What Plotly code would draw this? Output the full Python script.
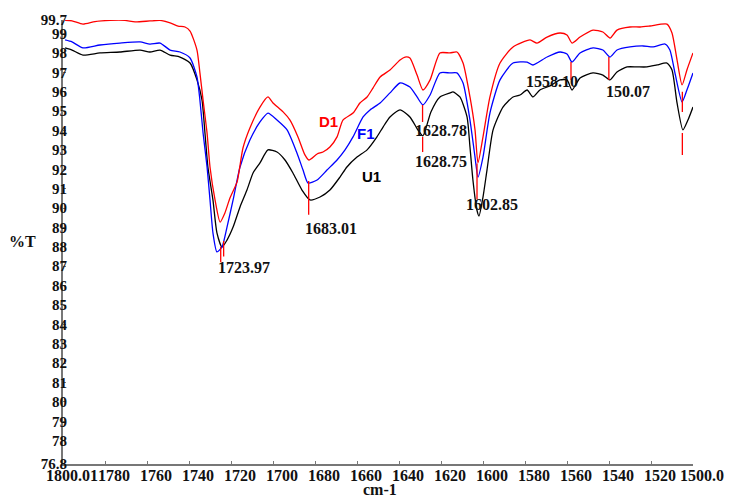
import plotly.graph_objects as go

# Wavenumber (cm-1) and transmittance (%T) for the three spectra
wn_d1 = [1799.0, 1795.7, 1790.5, 1784.8, 1777.6, 1770.5, 1765.7, 1758.6, 1753.8, 1749.0,
         1745.2, 1741.9, 1739.5, 1736.2, 1734.8, 1733.3, 1731.4, 1730.0, 1727.6, 1725.2,
         1722.9, 1720.5, 1717.1, 1714.3, 1711.0, 1706.2, 1702.4, 1700.0, 1695.2, 1691.9,
         1688.1, 1684.8, 1682.9, 1679.0, 1676.2, 1672.9, 1669.5, 1666.7, 1661.9, 1658.6,
         1655.2, 1652.4, 1649.0, 1644.3, 1639.5, 1637.1, 1634.8, 1631.4, 1628.6, 1625.2,
         1620.5, 1615.7, 1612.4, 1609.5, 1606.2, 1603.8, 1602.4, 1600.0, 1596.7, 1591.9,
         1585.7, 1577.6, 1574.3, 1569.5, 1563.3, 1560.0, 1557.6, 1553.8, 1547.6, 1542.9,
         1539.5, 1536.2, 1530.0, 1525.2, 1520.5, 1512.4, 1510.0, 1507.6, 1505.2, 1502.9,
         1500.0]
t_d1 = [99.68, 99.66, 99.49, 99.62, 99.68, 99.68, 99.60, 99.65, 99.68, 99.55,
        99.39, 99.34, 99.13, 98.15, 96.97, 95.57, 93.87, 92.12, 90.42, 89.28,
        89.75, 90.52, 91.35, 93.10, 94.13, 95.21, 95.73, 95.42, 94.96, 94.54,
        93.67, 92.74, 92.48, 92.79, 92.89, 93.15, 93.67, 94.54, 94.90, 95.42,
        95.73, 96.19, 96.76, 97.12, 97.64, 97.79, 97.74, 96.86, 96.09, 96.61,
        98.00, 98.00, 98.05, 97.48, 95.73, 94.03, 92.33, 93.67, 95.73, 97.48,
        98.31, 98.67, 98.51, 98.82, 99.03, 98.93, 98.51, 98.82, 99.18, 99.08,
        98.77, 99.18, 99.34, 99.34, 99.39, 99.49, 99.03, 97.64, 96.35, 97.12,
        98.00]

wn_f1 = [1799.0, 1795.7, 1790.5, 1782.4, 1772.9, 1763.3, 1758.6, 1753.8, 1749.0, 1744.3,
         1739.5, 1736.2, 1734.8, 1733.3, 1731.4, 1730.0, 1728.6, 1726.7, 1724.3, 1721.9,
         1719.0, 1715.7, 1711.0, 1706.2, 1702.4, 1698.1, 1693.3, 1688.6, 1685.7, 1683.3,
         1679.0, 1674.3, 1669.5, 1665.7, 1661.9, 1657.1, 1653.8, 1649.0, 1644.3, 1639.5,
         1634.8, 1631.4, 1628.6, 1625.2, 1620.5, 1615.7, 1612.4, 1609.5, 1606.2, 1603.8,
         1602.4, 1600.0, 1596.7, 1591.9, 1585.7, 1579.0, 1576.2, 1569.5, 1563.3, 1560.0,
         1557.6, 1553.8, 1547.6, 1542.9, 1539.5, 1536.2, 1530.0, 1523.8, 1519.0, 1513.3,
         1511.0, 1508.6, 1505.2, 1502.9, 1500.0]
t_f1 = [98.67, 98.57, 98.26, 98.41, 98.51, 98.57, 98.46, 98.51, 98.15, 98.05,
        97.74, 96.76, 95.57, 93.87, 92.12, 90.42, 88.72, 87.74, 87.99, 89.02,
        90.42, 92.12, 93.51, 94.44, 94.90, 94.54, 94.03, 92.84, 91.96, 91.29,
        91.45, 91.96, 92.48, 93.00, 93.67, 94.70, 95.06, 95.42, 95.94, 96.45,
        96.24, 95.73, 95.32, 95.83, 96.97, 96.97, 96.97, 96.45, 94.54, 92.63,
        91.60, 92.63, 94.90, 96.61, 97.48, 97.53, 97.38, 97.79, 98.05, 97.95,
        97.53, 98.00, 98.26, 98.15, 97.79, 98.15, 98.31, 98.36, 98.31, 98.46,
        98.15, 96.97, 95.47, 96.09, 96.97]

wn_u1 = [1799.0, 1795.7, 1790.5, 1782.4, 1772.9, 1763.3, 1758.6, 1753.8, 1749.0, 1744.3,
         1739.5, 1736.2, 1733.8, 1732.4, 1731.0, 1728.6, 1726.7, 1724.3, 1721.9, 1719.0,
         1715.7, 1712.4, 1709.5, 1706.2, 1702.4, 1698.1, 1694.3, 1690.5, 1686.2, 1682.4,
         1677.6, 1672.9, 1668.1, 1664.8, 1660.0, 1655.2, 1650.5, 1647.6, 1644.3, 1639.5,
         1634.8, 1631.0, 1628.6, 1624.8, 1620.5, 1615.7, 1614.3, 1611.0, 1607.6, 1606.2,
         1604.8, 1602.9, 1601.9, 1600.0, 1598.1, 1595.2, 1590.5, 1585.7, 1582.4, 1579.0,
         1576.2, 1572.9, 1568.1, 1563.3, 1560.0, 1557.6, 1553.8, 1547.6, 1542.9, 1539.5,
         1536.2, 1531.4, 1526.7, 1521.9, 1517.1, 1512.4, 1510.0, 1507.6, 1504.8, 1502.4,
         1500.0]
t_u1 = [98.26, 98.15, 97.89, 98.00, 98.05, 98.15, 98.05, 98.15, 97.89, 97.79,
        97.48, 96.61, 95.57, 93.87, 92.12, 90.42, 88.72, 87.99, 88.35, 89.02,
        90.06, 90.93, 91.81, 92.33, 93.00, 92.89, 92.48, 91.81, 90.93, 90.42,
        90.57, 90.93, 91.60, 92.12, 92.63, 93.00, 93.67, 94.18, 94.70, 95.06,
        94.70, 94.03, 93.72, 94.96, 95.73, 95.94, 95.99, 95.73, 94.70, 93.15,
        91.45, 89.90, 89.59, 90.57, 91.96, 94.03, 95.21, 95.73, 95.83, 96.09,
        95.73, 96.09, 96.30, 96.61, 96.61, 96.09, 96.71, 96.97, 96.86, 96.61,
        97.02, 97.28, 97.28, 97.28, 97.38, 97.48, 97.12, 95.42, 94.03, 94.54,
        95.21]

# Axis ticks
x_tickvals = [1800, 1780, 1760, 1740, 1720, 1700, 1680, 1660, 1640, 1620,
              1600, 1580, 1560, 1540, 1520, 1500]
x_ticktext = ["1800.01", "1780", "1760", "1740", "1720", "1700", "1680", "1660", "1640",
              "1620", "1600", "1580", "1560", "1540", "1520", "1500.0"]
y_tickvals = [76.8] + list(range(78, 100)) + [99.7]
y_ticktext = ["76.8"] + [str(v) for v in range(78, 100)] + ["99.7"]

# Peak markers: wavenumber, top and bottom of each marker stroke
peak_wn = [1724.9, 1723.5, 1683.01, 1628.78, 1628.75, 1602.85, 1558.10, 1540.07, 1505.07, 1505.07]
peak_top = [88.0, 88.3, 91.4, 95.32, 93.67, 92.3, 97.53, 97.79, 96.0, 93.87]
peak_bot = [87.2, 87.5, 89.65, 94.44, 92.89, 90.45, 96.61, 96.61, 94.96, 92.74]

# Peak labels
lab_text = ["1723.97", "1683.01", "1628.78", "1628.75", "1602.85", "1558.10", "150.07", "1505.07"]
lab_wn = [1713.8, 1672.4, 1620.0, 1620.0, 1595.7, 1567.1, 1530.9, 1499.0]
lab_t = [86.91, 88.97, 93.98, 92.38, 90.21, 96.55, 95.99, 92.27]

# Series labels
ser_text = ["D1", "F1", "U1"]
ser_wn = [1673.8, 1655.7, 1653.3]
ser_t = [94.44, 93.87, 91.65]
ser_col = ["#ff0000", "#0000ff", "#000000"]

fig = go.Figure()
for name, xs, ys, col in [("U1", wn_u1, t_u1, "#000000"),
                          ("F1", wn_f1, t_f1, "#0000ff"),
                          ("D1", wn_d1, t_d1, "#ff0000")]:
    fig.add_trace(go.Scatter(x=xs, y=ys, mode="lines", name=name,
                             line=dict(color=col, width=1.3, shape="spline", smoothing=0.6)))

for w, a, b in zip(peak_wn, peak_top, peak_bot):
    fig.add_shape(type="line", xref="x", yref="y", x0=w, x1=w, y0=a, y1=b,
                  line=dict(color="#ff0000", width=1.3))

serif = "Liberation Serif, Times New Roman, serif"
for txt, w, t in zip(lab_text, lab_wn, lab_t):
    fig.add_annotation(x=w, y=t, text=txt, showarrow=False, xanchor="center", yanchor="middle",
                       font=dict(family=serif, size=16, color="#111", weight="bold"))

for txt, w, t, c in zip(ser_text, ser_wn, ser_t, ser_col):
    fig.add_annotation(x=w, y=t, text=txt, showarrow=False, xanchor="center", yanchor="middle",
                       font=dict(family="Liberation Sans, Arial, sans-serif", size=15, color=c,
                                 weight="bold"))

# Axis titles: "%T" sits horizontally left of the y axis, "cm-1" under the x tick labels
fig.add_annotation(xref="paper", yref="paper", x=-0.065, y=0.502, text="%T", showarrow=False,
                   xanchor="center", yanchor="middle",
                   font=dict(family=serif, size=16, color="#111", weight="bold"))
fig.add_annotation(xref="paper", yref="paper", x=0.5, y=0, yshift=-25, xshift=2, text="cm-1",
                   showarrow=False, xanchor="center", yanchor="middle",
                   font=dict(family=serif, size=16, color="#111", weight="bold"))

fig.update_layout(
    width=730, height=495,
    margin=dict(l=63, r=37, t=20, b=31),
    paper_bgcolor="white", plot_bgcolor="white",
    showlegend=False,
    xaxis=dict(range=[1800, 1500], tickvals=x_tickvals, ticktext=x_ticktext,
               showgrid=False, zeroline=False, showline=True, linecolor="#777", linewidth=2,
               ticks="inside", ticklen=3, tickcolor="#777", tickangle=0, ticklabelshift=-9,
               ticklabelstandoff=-4,
               tickfont=dict(family=serif, size=16, color="#111", weight="bold"),
               automargin=False),
    yaxis=dict(range=[76.8, 99.7], tickvals=y_tickvals, ticktext=y_ticktext,
               showgrid=False, zeroline=False, showline=True, linecolor="#777", linewidth=2,
               ticks="inside", ticklen=3, tickcolor="#777", ticklabelstandoff=-9,
               tickfont=dict(family=serif, size=15, color="#111", weight="bold"),
               automargin=False),
)

fig.write_html("out.html")
